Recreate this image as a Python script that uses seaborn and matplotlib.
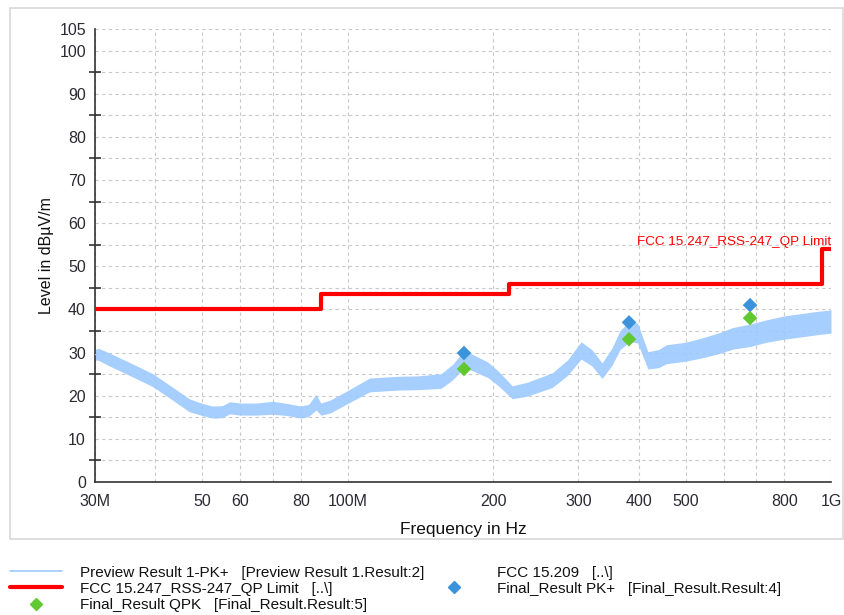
import matplotlib
matplotlib.use("Agg")
import matplotlib.pyplot as plt
from matplotlib.lines import Line2D
from matplotlib.patches import Rectangle
from matplotlib.ticker import FixedLocator, FixedFormatter, NullFormatter
import numpy as np
import pandas as pd
import seaborn as sns

# ---- data ----
trace_freq_mhz = [30, 30.5, 32, 34, 36, 39.5, 43, 47, 50, 52.6, 55, 57, 60, 64.7, 70, 75, 80, 83, 86, 88,
                  92, 100, 111, 127, 140, 156, 165, 174, 182, 195, 205, 219, 235, 265, 285, 304, 320, 336,
                  352, 366, 384, 398, 418, 440, 456, 500, 537, 580, 626, 680, 736, 800, 864, 930, 1000]
trace_level = [29.5, 29.6, 28.5, 27.1, 25.8, 23.6, 20.8, 17.8, 16.8, 16.2, 16.3, 17.2, 16.9, 16.9, 17.2, 16.8, 16.2, 16.6, 18.5, 16.9,
               17.5, 19.7, 22.5, 22.9, 23.0, 23.4, 25.5, 28.5, 27.6, 26.0, 24.0, 20.8, 21.5, 23.6, 26.5, 30.5, 28.8, 25.8,
               29.0, 32.9, 35.0, 34.5, 28.2, 28.6, 29.6, 30.2, 31.0, 32.0, 33.3, 34.0, 35.0, 35.8, 36.3, 36.8, 37.2]
trace_spread = [1.2, 1.4, 1.5, 1.5, 1.5, 1.5, 1.5, 1.5, 1.4, 1.4, 1.4, 1.4, 1.4, 1.4, 1.5, 1.4, 1.4, 1.4, 1.8, 1.4,
                1.5, 1.5, 1.6, 1.6, 1.6, 1.7, 1.8, 2.0, 1.9, 1.8, 1.7, 1.5, 1.6, 1.7, 1.8, 2.0, 1.9, 1.8,
                2.0, 2.2, 2.4, 2.3, 2.0, 2.1, 2.2, 2.2, 2.3, 2.4, 2.5, 2.6, 2.6, 2.7, 2.7, 2.7, 2.7]

limit_freq_mhz = [30, 88, 216, 960, 1000]
limit_level = [40, 43.5, 46, 54, 54]

pk_freq_mhz = [174, 382, 680]
pk_level = [29.9, 37.0, 41.0]
qp_freq_mhz = [174, 382, 680]
qp_level = [26.2, 33.1, 38.0]

xtick_mhz = [30, 40, 50, 60, 70, 80, 100, 200, 300, 400, 500, 600, 700, 800, 1000]
xtick_labels = ["30M", "", "50", "60", "", "80", "100M", "200", "300", "400", "500", "", "", "800", "1G"]
ytick_major = [0, 10, 20, 30, 40, 50, 60, 70, 80, 90, 100, 105]
ytick_minor = [5, 15, 25, 35, 45, 55, 65, 75, 85, 95]

limit_name = "FCC 15.247_RSS-247_QP Limit"
legend_left = ["Preview Result 1-PK+   [Preview Result 1.Result:2]",
               "FCC 15.247_RSS-247_QP Limit   [..\\]",
               "Final_Result QPK   [Final_Result.Result:5]"]
legend_right = ["FCC 15.209   [..\\]",
                "Final_Result PK+   [Final_Result.Result:4]"]

TRACE_C = "#9ccaff"
LIMIT_C = "#ff0000"
PK_C = "#3b93dc"
QP_C = "#62c832"
TEXT_C = "#2a2a33"

sns.set_style("white")
plt.rcParams['font.family'] = ['Liberation Sans', 'DejaVu Sans']

fig = plt.figure(figsize=(8.44, 6.15), dpi=100)
ax = fig.add_axes([95 / 844, 1 - 482 / 615, (831 - 95) / 844, (482 - 29) / 615])

tr = pd.DataFrame({"f": np.array(trace_freq_mhz) * 1e6, "lvl": trace_level, "sp": trace_spread})
ax.fill_between(tr["f"], tr["lvl"] - tr["sp"], tr["lvl"] + tr["sp"], color=TRACE_C, lw=0, alpha=0.9, zorder=2)
sns.lineplot(data=tr, x="f", y="lvl", ax=ax, color="#a6cffc", lw=0.8, zorder=3)

lim = pd.DataFrame({"f": np.array(limit_freq_mhz) * 1e6, "lvl": limit_level})
ax.step(lim["f"], lim["lvl"], where="post", color=LIMIT_C, lw=3, zorder=4)

pk = pd.DataFrame({"f": np.array(pk_freq_mhz) * 1e6, "lvl": pk_level})
qp = pd.DataFrame({"f": np.array(qp_freq_mhz) * 1e6, "lvl": qp_level})
sns.scatterplot(data=pk, x="f", y="lvl", ax=ax, marker="D", s=55, color=PK_C, edgecolor="none", zorder=5)
sns.scatterplot(data=qp, x="f", y="lvl", ax=ax, marker="D", s=55, color=QP_C, edgecolor="none", zorder=5)

ax.set_xscale("log")
ax.set_xlim(30e6, 1000e6)
ax.set_ylim(0, 105)

ax.xaxis.set_major_locator(FixedLocator([v * 1e6 for v in xtick_mhz]))
ax.xaxis.set_major_formatter(FixedFormatter(xtick_labels))
ax.xaxis.set_minor_locator(FixedLocator([]))
ax.xaxis.set_minor_formatter(NullFormatter())
ax.yaxis.set_major_locator(FixedLocator(ytick_major))
ax.yaxis.set_minor_locator(FixedLocator(ytick_minor))

ax.grid(True, which="both", axis="both", color="#c8c8c8", ls=(0, (3, 3)), lw=0.8)
ax.set_axisbelow(True)
for s in ["top", "right"]:
    ax.spines[s].set_visible(False)
for s in ["left", "bottom"]:
    ax.spines[s].set_color("#333333")
    ax.spines[s].set_linewidth(1.2)
ax.tick_params(which="major", direction="out", length=5, width=1.1, color="#222222",
               labelsize=11.5, labelcolor=TEXT_C, pad=1.5)
ax.tick_params(axis="x", pad=4)
ax.tick_params(axis="y", which="minor", left=True, direction="inout", length=9, width=1.1, color="#222222")

ax.set_xlabel("Frequency in Hz", fontsize=12.5, labelpad=9, color="#111111")
ax.set_ylabel("Level in dBµV/m", fontsize=11.5, labelpad=4, color="#111111")

ax.text(1000e6, 55.6, limit_name, color=LIMIT_C, fontsize=9.7, ha="right", va="center", zorder=6)

# outer frame
fig.patches.append(Rectangle((10 / 844, 1 - 539 / 615), (843 - 10) / 844, (539 - 8) / 615,
                             transform=fig.transFigure, fill=False, ec="#d8d8d8", lw=1.2))

h_left = [Line2D([], [], color=TRACE_C, lw=1.2),
          Line2D([], [], color=LIMIT_C, lw=3),
          Line2D([], [], color=QP_C, marker="D", ms=6, ls="none")]
h_right = [Line2D([], [], color="none", lw=0),
           Line2D([], [], color=PK_C, marker="D", ms=6, ls="none")]

fs = 11
fig.legend(h_left, legend_left, loc="upper left", bbox_to_anchor=(5.5 / 844, 1 - 561 / 615),
           frameon=False, fontsize=fs, handlelength=3.4, handletextpad=1.2,
           labelspacing=0.14, borderaxespad=0, borderpad=0.3, labelcolor="#111111")
fig.legend(h_right, legend_right, loc="upper left", bbox_to_anchor=(441 / 844, 1 - 561 / 615),
           frameon=False, fontsize=fs, handlelength=1.05, handletextpad=2.3,
           labelspacing=0.14, borderaxespad=0, borderpad=0.3, labelcolor="#111111")

fig.savefig("out.png", dpi=100)
